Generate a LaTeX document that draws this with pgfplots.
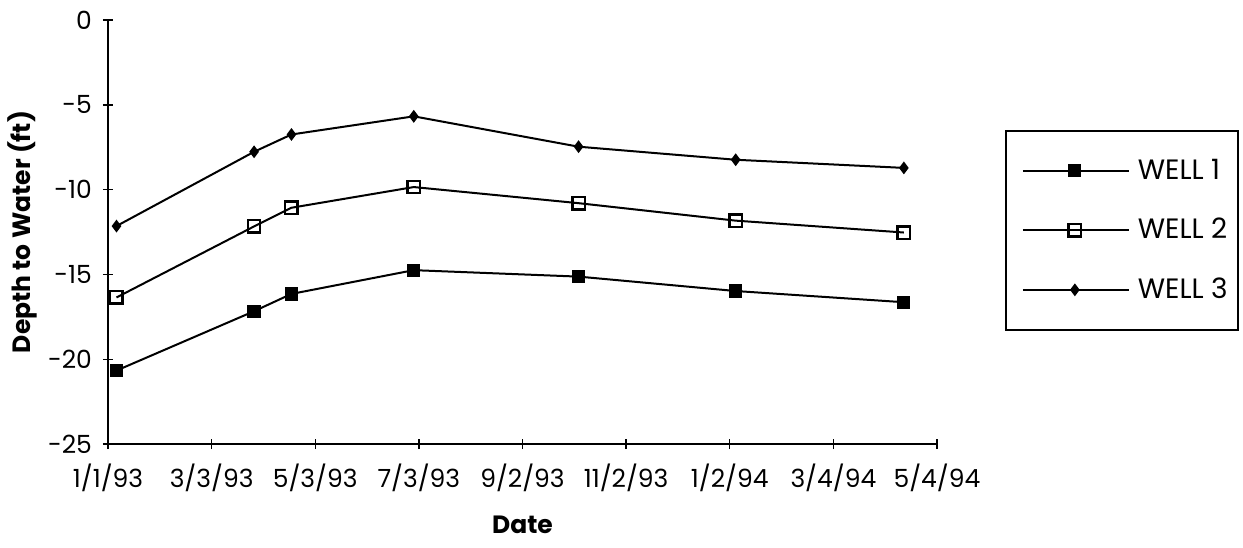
\documentclass[border=0pt]{standalone}
\usepackage{pgfplots}
\pgfplotsset{compat=1.18}
\usepackage{fontspec}
\setmainfont{Poppins}
\begin{document}
\begin{tikzpicture}[x=1pt,y=1pt]
\useasboundingbox (-54,-51.5) rectangle (567.5,222);
\begin{axis}[
  scale only axis, width=414.5pt, height=212pt,
  at={(0,0)}, anchor=south west,
  xmin=0, xmax=488, ymin=-25, ymax=0,
  axis x line=bottom, axis y line=left,
  axis line style={-, line width=0.9pt},
  xtick={0,61,122,183,244,305,366,427,488},
  xticklabels={1/1/93,3/3/93,5/3/93,7/3/93,9/2/93,11/2/93,1/2/94,3/4/94,5/4/94},
  ytick={-25,-20,-15,-10,-5,0},
  yticklabels={-25,-20,-15,-10,-5,0},
  tick align=center, major tick length=5pt,
  tick style={black, line width=0.7pt},
  ticklabel style={font=\fontsize{12.5}{14}\selectfont},
  xticklabel style={yshift=-4pt},
  yticklabel style={xshift=-2pt},
  xlabel={Date}, ylabel={Depth to Water (ft)},
  xlabel style={font=\bfseries\fontsize{12.5}{14}\selectfont, at={(axis description cs:0.5,-0.191)}, anchor=center},
  ylabel style={font=\bfseries\fontsize{12.5}{14}\selectfont, at={(axis description cs:-0.103,0.5)}, anchor=center},
  legend style={at={(axis description cs:1.082,0.74)}, anchor=north west,
    draw=black, line width=0.9pt, font=\fontsize{14}{16}\selectfont,
    inner xsep=3pt, inner ysep=12pt, row sep=14pt},
  legend cell align=left,
  legend image code/.code={\path (-5pt,0pt); \draw[mark repeat=2,mark phase=2,#1] plot coordinates {(0pt,0pt)(26pt,0pt)(53pt,0pt)}; \path (55pt,0pt);},
]
\addplot[black, line width=1pt, mark=square*, mark size=2.8pt, mark options={solid}]
  coordinates {(5,-20.67) (86,-17.17) (108,-16.15) (180,-14.75) (277,-15.13) (369.5,-15.98) (468.5,-16.64)};
\addlegendentry{WELL 1}
\addplot[black, line width=1pt, mark=square, mark size=3.1pt, mark options={solid, fill=white, line width=1.2pt}]
  coordinates {(5,-16.36) (86,-12.17) (108,-11.07) (180,-9.85) (277,-10.80) (369.5,-11.83) (468.5,-12.53)};
\addlegendentry{WELL 2}
\addplot[black, line width=1pt, mark=diamond*, mark size=2.4pt, mark options={solid}]
  coordinates {(5,-12.15) (86,-7.77) (108,-6.75) (180,-5.68) (277,-7.47) (369.5,-8.24) (468.5,-8.72)};
\addlegendentry{WELL 3}
\end{axis}
\end{tikzpicture}
\end{document}
